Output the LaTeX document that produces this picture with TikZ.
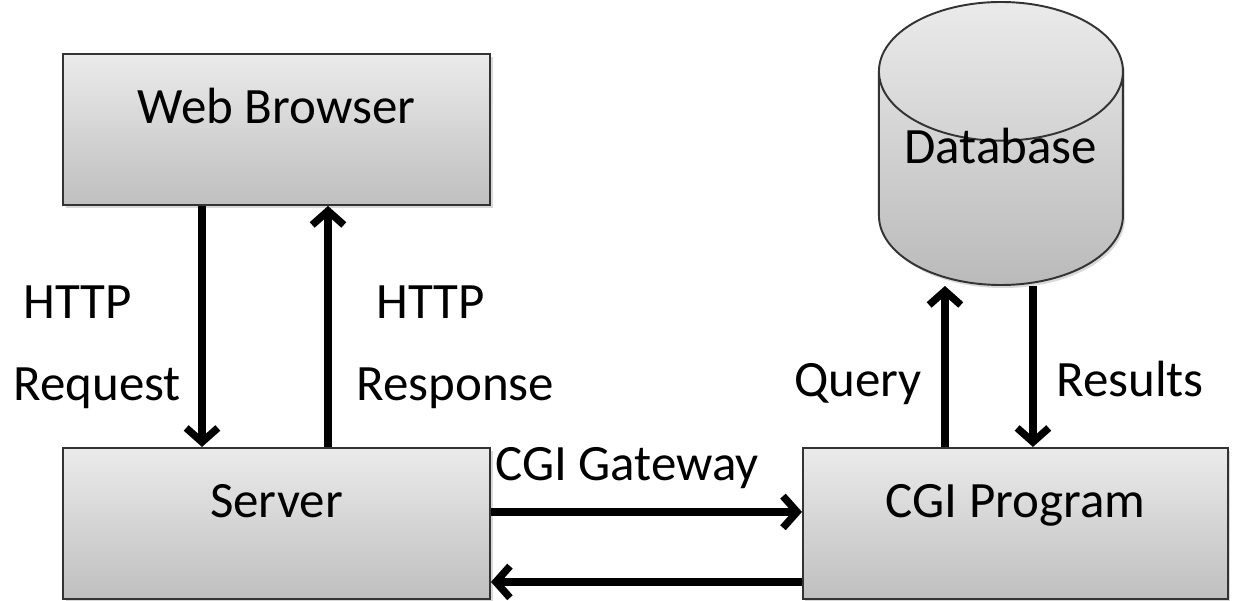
\documentclass[tikz,border=0pt]{standalone}
\usepackage{fontspec}
\setmainfont{Carlito}
\usetikzlibrary{shapes, arrows.meta, positioning, shadows}

\begin{document}
\begin{tikzpicture}[font=\fontsize{29}{46.7}\selectfont, >={Straight Barb[length=8pt, width=18pt]},
    box/.style={draw=black!80, line width=1.1pt, top color=black!8, bottom color=black!25,
      minimum width=8.54cm, inner sep=0pt, text height=1.4cm, text depth=1.62cm,
      drop shadow={shadow xshift=0.05cm, shadow yshift=-0.06cm, opacity=0.3}},
    dbase/.style={cylinder, shape border rotate=90, aspect=0.72, draw=black!80, line width=1.1pt,
      top color=black!8, bottom color=black!27, minimum width=4.88cm, minimum height=5.66cm,
      inner sep=0pt, drop shadow={shadow xshift=0.04cm, shadow yshift=-0.06cm, opacity=0.3}},
    flow/.style={->, line width=4.2pt},
    lbl/.style={inner sep=0pt, align=left}]
    \useasboundingbox (0,0) rectangle (24.66,-12.02);

    \node[box] (browser) at (5.53,-2.59) {Web Browser};
    \node[box, below=4.82cm of browser] (server) {Server};
    \node[box, minimum width=8.5cm, right=6.22cm of server] (cgi) {CGI Program};
    \node[dbase, above=3.22cm of cgi, xshift=-0.29cm] (db) {\raisebox{0.66cm}[\height][\depth]{Database}};

    % browser <-> server
    \draw[flow] ([xshift=-1.49cm]browser.south) -- ([xshift=-1.49cm]server.north);
    \draw[flow] ([xshift=1.03cm]server.north) -- ([xshift=1.03cm]browser.south);

    % server <-> cgi program
    \draw[flow] ([yshift=0.23cm]server.east) -- ([yshift=0.23cm]cgi.west);
    \draw[flow] ([yshift=-1.17cm]cgi.west) -- ([yshift=-1.17cm]server.east);

    % cgi program <-> database
    \draw[flow] ([xshift=-1.41cm]cgi.north) -- ([xshift=-1.41cm]cgi.north |- db.south);
    \draw[flow] ([xshift=0.35cm]cgi.north |- db.south) -- ([xshift=0.35cm]cgi.north);

    \node[lbl, anchor=north west] (req) at (0.26,-5.70) {\hspace{0.2cm}HTTP\\Request};
    \node[lbl, anchor=north west] (resp) at (7.12,-5.70) {\hspace{0.4cm}HTTP\\Response};
    \node[lbl, anchor=base west] (gate) at (9.9,-9.6) {CGI Gateway};
    \node[lbl, anchor=base east] (query) at (18.44,-7.92) {Query};
    \node[lbl, anchor=base west] (res) at (21.12,-7.92) {Results};
\end{tikzpicture}
\end{document}
